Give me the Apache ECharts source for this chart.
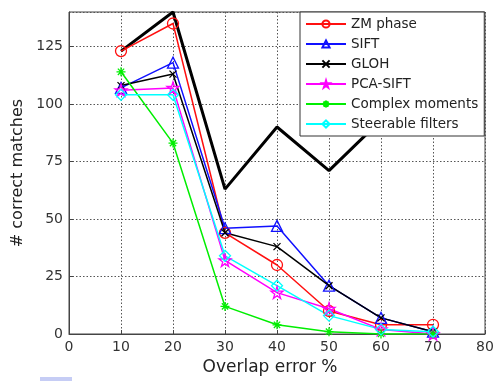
<!DOCTYPE html>
<html lang="en">
<head>
    <meta charset="utf-8">
    <title>Correct matches vs overlap error</title>
    <script src="https://cdn.jsdelivr.net/npm/echarts@6/dist/echarts.min.js"></script>
</head>
<body style="margin:0;">
<div id="main" style="width: 499px;height:381px;"></div>

<script type="text/javascript">
    var overlap = [10, 20, 30, 40, 50, 60, 70];
    var zmPhase = [123, 135, 44, 30, 10, 4, 4];
    var sift = [107, 118, 46, 47, 21, 7, 1];
    var gloh = [108, 113, 44, 38, 21, 7, 1];
    var pcaSift = [106, 107, 32, 18, 11, 2, 0];
    var complexMoments = [114, 83, 12, 4, 1, 0, 0];
    var steerable = [104, 104, 34, 21, 8, 2, 1];
    // thick black line without legend entry (goes behind the legend)
    var extraX = [10, 20, 30, 40, 50, 60];
    var extraY = [123, 140, 63, 90, 71, 93];

    function pairs(xs, ys) {
        return ys.map(function (y, i) { return [xs[i], y]; });
    }

    var font = 'DejaVu Sans';
    var starPath = 'path://M50,0L61,35L98,35L68,57L79,91L50,70L21,91L32,57L2,35L39,35Z';
    var crossPath = 'path://M0,0L10,10M10,0L0,10';
    var asteriskPath = 'path://M5,0L5,10M0,5L10,5M1.5,1.5L8.5,8.5M8.5,1.5L1.5,8.5';

    function mk(name, ys, color, symbol, size) {
        return {
            name: name,
            type: 'line',
            data: pairs(overlap, ys),
            symbol: symbol,
            symbolSize: size,
            lineStyle: {color: color, width: 1.5},
            itemStyle: {color: 'rgba(0,0,0,0)', borderColor: color, borderWidth: 1.3},
            emphasis: {disabled: true}
        };
    }

    var myChart = echarts.init(document.getElementById('main'));

    var option = {
        animation: false,
        textStyle: {fontFamily: font},
        grid: {
            left: 69, right: 14, top: 12, bottom: 47,
            show: true, borderColor: '#444', borderWidth: 1
        },
        legend: {
            orient: 'vertical',
            left: 300, top: 12,
            data: ['ZM phase', 'SIFT', 'GLOH', 'PCA-SIFT', 'Complex moments', 'Steerable filters'],
            backgroundColor: '#fff',
            borderColor: '#333', borderWidth: 1, borderRadius: 0,
            padding: [5, 6, 5, 5],
            itemWidth: 40, itemHeight: 9, itemGap: 6,
            textStyle: {fontFamily: font, fontSize: 13.5, color: '#222'}
        },
        xAxis: {
            type: 'value', min: 0, max: 80, interval: 10,
            name: 'Overlap error %', nameLocation: 'middle', nameGap: 24,
            nameTextStyle: {fontFamily: font, fontSize: 17, color: '#222', padding: [0, 14, 0, 0]},
            axisLine: {show: true, lineStyle: {color: '#444'}},
            axisTick: {show: true, inside: true, length: 4, lineStyle: {color: '#444'}},
            axisLabel: {fontFamily: font, fontSize: 14, color: '#333', margin: 6},
            splitLine: {show: true, lineStyle: {color: '#555', type: [1.5, 2], width: 1}}
        },
        yAxis: {
            type: 'value', min: 0, max: 140, interval: 25,
            name: '# correct matches', nameLocation: 'middle', nameGap: 38,
            nameTextStyle: {fontFamily: font, fontSize: 16, color: '#222'},
            axisLine: {show: true, lineStyle: {color: '#444'}},
            axisTick: {show: true, inside: true, length: 4, lineStyle: {color: '#444'}},
            axisLabel: {fontFamily: font, fontSize: 14, color: '#333', margin: 6, showMaxLabel: false},
            splitLine: {show: true, lineStyle: {color: '#555', type: [1.5, 2], width: 1}}
        },
        graphic: [{
            type: 'rect', left: 40, top: 377,
            shape: {width: 32, height: 4},
            style: {fill: '#c6cdf5'}
        }],
        series: [
            {
                name: 'extra',
                type: 'line',
                data: pairs(extraX, extraY),
                showSymbol: false,
                lineStyle: {color: '#000', width: 3},
                emphasis: {disabled: true}
            },
            mk('ZM phase', zmPhase, '#ff1010', 'circle', 11),
            mk('SIFT', sift, '#1010ff', 'triangle', 11),
            mk('GLOH', gloh, '#000000', crossPath, 7),
            mk('PCA-SIFT', pcaSift, '#ff00ff', starPath, 12),
            mk('Complex moments', complexMoments, '#00ee00', asteriskPath, 9),
            mk('Steerable filters', steerable, '#00ffff', 'diamond', 11)
        ]
    };

    myChart.setOption(option);
</script>

</body>
</html>
